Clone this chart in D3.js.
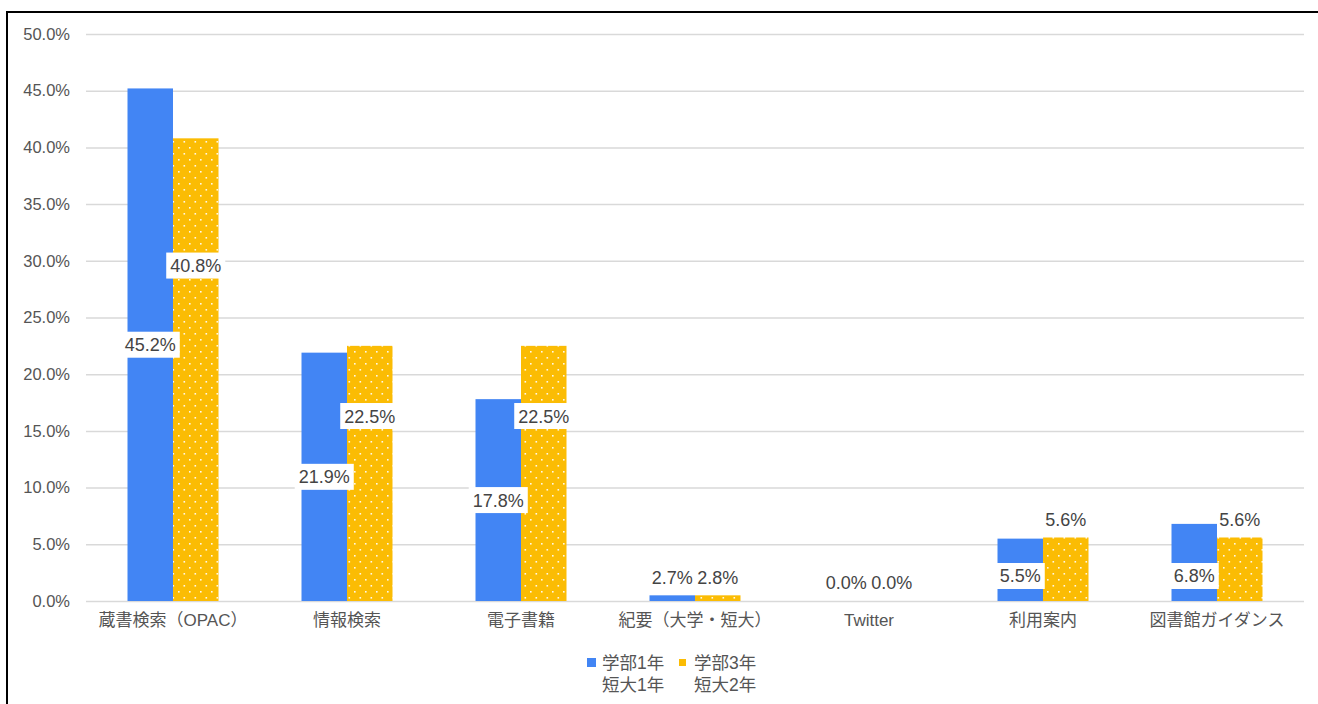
<!DOCTYPE html>
<html>
<head>
<meta charset="utf-8">
<script src="https://cdn.jsdelivr.net/npm/d3@7"></script>
<style>
  body { margin: 0; background: #fff; }
  text { font-family: "Liberation Sans", Arial, "Noto Sans CJK JP", sans-serif; }
</style>
</head>
<body>
<div id="chart"></div>
<script>
// ---- data ----
const categories = ["蔵書検索（OPAC）", "情報検索", "電子書籍", "紀要（大学・短大）", "Twitter", "利用案内", "図書館ガイダンス"];
const seriesNames = [["学部1年", "短大1年"], ["学部3年", "短大2年"]];
const blueValues = [45.2, 21.9, 17.8, 0.5, 0.0, 5.5, 6.8];
const yellowValues = [40.8, 22.5, 22.5, 0.5, 0.0, 5.6, 5.6];
const blueLabels = [45.2, 21.9, 17.8, 2.7, 0.0, 5.5, 6.8];
const yellowLabels = [40.8, 22.5, 22.5, 2.8, 0.0, 5.6, 5.6];
const yTicks = [0, 5, 10, 15, 20, 25, 30, 35, 40, 45, 50];

// ---- layout ----
const W = 1318, H = 704;
const plotL = 86, plotR = 1304, plotT = 34, plotB = 601;
const blue = "#4285F4", yellow = "#FBBC04";
// where each data label sits relative to its bar
const bluePlace = ["mid", "mid", "mid", "top", "top", "low", "low"];
const yellowPlace = ["high", "high", "high", "top", "top", "top", "top"];

const svg = d3.select("#chart").append("svg")
  .attr("width", W).attr("height", H);

const defs = svg.append("defs");
const pat = defs.append("pattern")
  .attr("id", "dots")
  .attr("patternUnits", "userSpaceOnUse")
  .attr("width", 11).attr("height", 12);
pat.append("rect").attr("width", 11).attr("height", 12).attr("fill", yellow);
pat.append("rect").attr("x", 2).attr("y", 3).attr("width", 1.6).attr("height", 1.6).attr("fill", "#fff").attr("opacity", 0.9);
pat.append("rect").attr("x", 7.5).attr("y", 9).attr("width", 1.6).attr("height", 1.6).attr("fill", "#fff").attr("opacity", 0.9);

// outer frame (runs off right / bottom)
svg.append("rect")
  .attr("x", 7).attr("y", 12).attr("width", 1400).attr("height", 800)
  .attr("fill", "none").attr("stroke", "#000").attr("stroke-width", 2);

const y = d3.scaleLinear().domain([0, 50]).range([plotB, plotT]);
const x = d3.scaleBand().domain(categories).range([plotL, plotR])
  .paddingInner(0.477).paddingOuter(0.2385);
const xs = d3.scaleBand().domain([0, 1]).range([0, x.bandwidth()]);

// gridlines + y labels
const yAxis = svg.append("g")
  .attr("transform", "translate(" + plotL + ",0)")
  .call(d3.axisLeft(y).tickValues(yTicks).tickSize(-(plotR - plotL)).tickPadding(16)
    .tickFormat((d) => d.toFixed(1) + "%"));
yAxis.select(".domain").remove();
yAxis.selectAll(".tick line").attr("stroke", "#d9d9d9").attr("stroke-width", 1.5);
yAxis.selectAll(".tick text").attr("fill", "#555").attr("font-size", 16.5)
  .style("font-family", "Liberation Sans, Arial, sans-serif");

// category labels
const xAxis = svg.append("g")
  .attr("transform", "translate(0," + plotB + ")")
  .call(d3.axisBottom(x).tickSize(0).tickPadding(13));
xAxis.select(".domain").remove();
xAxis.selectAll(".tick text").attr("fill", "#555").attr("font-size", 17)
  .style("font-family", "Liberation Sans, Arial, 'Noto Sans CJK JP', sans-serif");

const series = [
  { values: blueValues, labels: blueLabels, fill: blue, place: bluePlace },
  { values: yellowValues, labels: yellowLabels, fill: "url(#dots)", place: yellowPlace },
];

series.forEach((s, si) => {
  svg.append("g").selectAll("rect")
    .data(s.values)
    .enter()
    .append("rect")
    .attr("x", (d, i) => x(categories[i]) + xs(si))
    .attr("y", (d) => y(d))
    .attr("width", xs.bandwidth())
    .attr("height", (d) => plotB - y(d))
    .attr("fill", s.fill);
});

// data labels
series.forEach((s, si) => {
  const g = svg.append("g").selectAll("g")
    .data(s.labels)
    .enter()
    .append("g")
    .attr("transform", (d, i) => {
      const v = s.values[i];
      const cx = x(categories[i]) + xs(si) + xs.bandwidth() / 2;
      let cy;
      const p = s.place[i];
      if (p === "mid") cy = Math.min(y(v / 2), plotB - 24);
      else if (p === "low") cy = Math.max(y(v / 2), plotB - 25);
      else if (p === "high") cy = y(v * 0.725);
      else cy = y(v) - 18;
      return "translate(" + cx + "," + cy + ")";
    });
  g.each(function (d, i) {
    const sel = d3.select(this);
    const boxed = s.place[i] !== "top";
    const t = sel.append("text")
      .text(d.toFixed(1) + "%")
      .attr("text-anchor", "middle")
      .attr("dy", "0.36em")
      .attr("font-size", 18)
      .attr("fill", "#444");
    if (boxed) {
      const bb = t.node().getBBox();
      sel.insert("rect", "text")
        .attr("x", bb.x - 4).attr("y", -13)
        .attr("width", bb.width + 8).attr("height", 26)
        .attr("fill", "#fff");
    }
  });
});

// legend
const legend = svg.append("g");
const lx = [587, 679];
const lw = [9, 7];
seriesNames.forEach((names, i) => {
  legend.append("rect")
    .attr("x", lx[i]).attr("y", i === 0 ? 658 : 659)
    .attr("width", lw[i]).attr("height", lw[i])
    .attr("fill", i === 0 ? blue : yellow);
  names.forEach((n, j) => {
    legend.append("text")
      .attr("x", lx[i] + 15).attr("y", 669 + j * 22)
      .attr("font-size", 17.5)
      .attr("fill", "#555")
      .style("font-family", "Liberation Sans, Arial, 'Noto Sans CJK JP', sans-serif")
      .text(n);
  });
});
</script>
</body>
</html>
